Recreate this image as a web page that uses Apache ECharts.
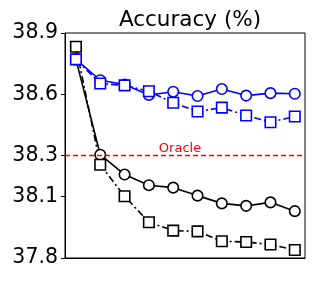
<!DOCTYPE html>
<html><head><meta charset="utf-8">
<script src="https://cdn.jsdelivr.net/npm/echarts@6/dist/echarts.min.js"></script>
<style>html,body{margin:0;padding:0;background:#fff}#c{width:316px;height:281px}</style>
</head><body><div id="c"></div>
<script>
const xIdx = [0,1,2,3,4,5,6,7,8,9];
const blueCircle = [38.771,38.669,38.648,38.597,38.613,38.592,38.626,38.594,38.606,38.603];
const blueSquare = [38.771,38.653,38.644,38.615,38.559,38.516,38.535,38.497,38.464,38.492];
const blackCircle = [38.771,38.305,38.208,38.156,38.144,38.105,38.067,38.055,38.072,38.029];
const blackSquare = [38.833,38.256,38.102,37.975,37.934,37.930,37.882,37.878,37.866,37.839];
const yTicks = [37.8,38.1,38.3,38.6,38.9];
const oracle = 38.3;

const pairs = a => xIdx.map((x,i)=>[x,a[i]]);
const font = 'DejaVu Sans';
function mk(name, data, color, symbol, dashed){
  return {name, type:'line', data:pairs(data), symbol, symbolSize: 10.5,
    itemStyle:{color:'#fff', borderColor:color, borderWidth:1.6},
    lineStyle:{color, width:1.6, type: dashed?[7,3,2,3]:'solid'}, z: color==='#0000ff'?5:3, animation:false};
}
const chart = echarts.init(document.getElementById('c'), null, {renderer:'canvas'});
chart.setOption({
  animation:false,
  title:{text:'Accuracy (%)', left:185, top:4, textAlign:'center', textStyle:{fontFamily:font, fontSize:21.5, fontWeight:'normal', color:'#000'}},
  grid:{left:65, right:11, top:33, bottom:23, show:true, borderColor:'#000', borderWidth:1},
  xAxis:{type:'value', min:-0.45, max:9.42, axisLabel:{show:false}, axisTick:{show:false}, splitLine:{show:false}, axisLine:{onZero:false, lineStyle:{color:'#000'}}},
  yAxis:{type:'value', min:37.8, max:38.9, interval:0.1, splitLine:{show:false},
    axisLine:{show:true, onZero:false, lineStyle:{color:'#000'}},
    axisTick:{show:true, length:4, customValues:yTicks, lineStyle:{color:'#000'}},
    axisLabel:{customValues:yTicks, fontFamily:font, fontSize:20.5, color:'#000', margin:7, formatter:v=>v.toFixed(1)}},
  series:[
    mk('bc', blackCircle, '#000000', 'circle', false),
    mk('bs', blackSquare, '#000000', 'rect', true),
    mk('uc', blueCircle, '#0000ff', 'circle', false),
    Object.assign(mk('us', blueSquare, '#0000ff', 'rect', true), {
      markLine:{silent:true, symbol:'none', data:[{yAxis:oracle}],
        lineStyle:{color:'#ff0000', type:[5,3], width:1.4},
        label:{show:true, position:'middle', formatter:'Oracle', color:'#ff0000', fontFamily:font, fontSize:13, distance:1, offset:[-5,0]}}
    })
  ]
});
</script></body></html>
